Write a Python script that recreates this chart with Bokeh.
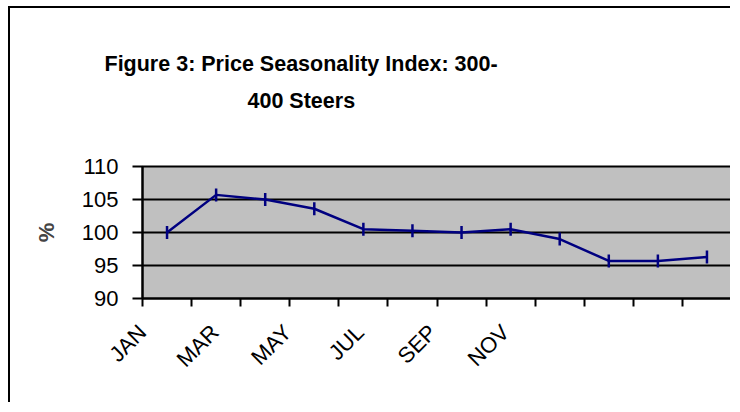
import numpy as np
from bokeh.plotting import figure
from bokeh.models import Range1d, FixedTicker, Title, ColumnDataSource, LinearAxis
from bokeh.embed import file_html
from bokeh.resources import INLINE

months = ["JAN", "FEB", "MAR", "APR", "MAY", "JUN",
          "JUL", "AUG", "SEP", "OCT", "NOV", "DEC"]
index_values = [100.0, 105.7, 105.0, 103.6, 100.5, 100.25,
                100.0, 100.5, 99.0, 95.7, 95.7, 96.3]
y_ticks = [90, 95, 100, 105, 110]
shown_labels = ["JAN", "MAR", "MAY", "JUL", "SEP", "NOV"]
title_lines = ["Figure 3: Price Seasonality Index: 300-", "400 Steers"]

FONT = "Liberation Sans"
NAVY = "#000080"

W, H = 722, 396
p = figure(width=W, height=H, output_backend="svg", toolbar_location=None,
           x_range=Range1d(0, len(months)), y_range=Range1d(y_ticks[0], y_ticks[-1]),
           min_border_left=132, min_border_right=1, min_border_top=158,
           min_border_bottom=106)
p.background_fill_color = "#C0C0C0"
p.border_fill_color = "white"
p.outline_line_color = "black"
p.outline_line_width = 2
p.styles = {"margin-left": "8px", "margin-top": "6px",
            "border-left": "2px solid black", "border-top": "2px solid black"}

# grid
p.xgrid.visible = False
p.ygrid.grid_line_color = "black"
p.ygrid.grid_line_width = 2
p.ygrid.ticker = FixedTicker(ticks=y_ticks)

# y axis
ya = p.left[0]
ya.ticker = FixedTicker(ticks=y_ticks)
ya.axis_line_width = 2
ya.major_tick_line_width = 2
ya.major_tick_out = 10
ya.major_tick_in = 0
ya.minor_tick_line_color = None
ya.major_label_standoff = 14
ya.major_label_text_font = FONT
ya.major_label_text_font_size = "22px"
ya.major_label_text_color = "black"
ya.axis_label = "%"
ya.axis_label_text_font = FONT
ya.axis_label_text_font_style = "bold"
ya.axis_label_text_font_size = "22px"
ya.axis_label_standoff = 20

# x axis: minor ticks at category boundaries, major (labelled, no tick line)
# at Excel's skipped-label positions
xa = p.below[0]
lab_idx = np.array([months.index(m) for m in shown_labels])
lab_pos = lab_idx * 0.739
xa.ticker = FixedTicker(ticks=list(lab_pos),
                        minor_ticks=list(range(len(months) + 1)))
xa.major_label_overrides = {float(v): t for v, t in zip(lab_pos, shown_labels)}
xa.axis_line_width = 2
xa.major_tick_line_color = None
xa.major_tick_out = 0
xa.major_tick_in = 0
xa.minor_tick_line_color = "black"
xa.minor_tick_line_width = 2
xa.minor_tick_out = 8
xa.minor_tick_in = 0
xa.major_label_orientation = np.pi / 4
xa.major_label_standoff = 22
xa.major_label_text_font = FONT
xa.major_label_text_font_size = "22px"
xa.major_label_text_color = "black"

# invisible spacer between plot area and the title block
spacer = LinearAxis(ticker=FixedTicker(ticks=[len(months)]), axis_line_color=None,
                    major_tick_line_color="white", minor_tick_line_color=None,
                    major_tick_out=48, major_tick_in=0,
                    major_label_standoff=0, major_label_text_alpha=0,
                    major_label_text_font_size="1px")
p.add_layout(spacer, "above")

# two-line title (line nearest the plot is added first)
title_offsets = [-38, 105]
for i in reversed(range(len(title_lines))):
    p.add_layout(Title(text=title_lines[i], align="left", offset=title_offsets[i],
                       text_font=FONT, text_font_style="bold",
                       text_font_size="21.5px", text_color="black",
                       standoff=11), "above")

# data
x = np.arange(len(months)) + 0.5
src = ColumnDataSource(dict(x=x, y=index_values))
p.line("x", "y", source=src, line_color=NAVY, line_width=2.5)
p.scatter("x", "y", source=src, marker="dash", angle=np.pi / 2, size=13,
          line_color=NAVY, line_width=2.5)

open("out.html", "w").write(file_html(p, INLINE))
